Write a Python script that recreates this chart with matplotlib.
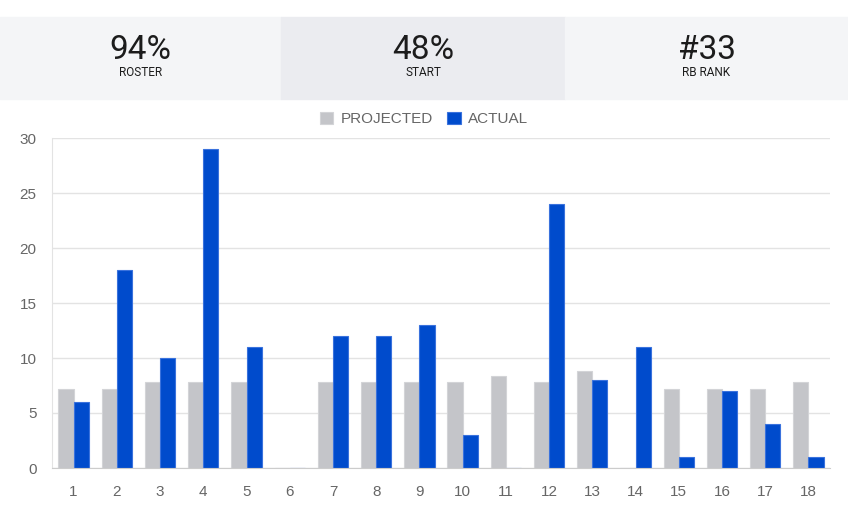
import matplotlib.pyplot as plt
import numpy as np
from matplotlib.patches import Rectangle

plt.rcParams['font.family'] = ['Roboto', 'DejaVu Sans']

# Données
semaines  = [str(i) for i in range(1, 19)]
projete   = [7.2, 7.2, 7.8, 7.8, 7.8, 0, 7.8, 7.8, 7.8, 7.8, 8.4, 7.8, 8.8, 0, 7.2, 7.2, 7.2, 7.8]
reel      = [6, 18, 10, 29, 11, 0, 12, 12, 13, 3, 0, 24, 8, 11, 1, 7, 4, 1]

stats_val = ["94%", "48%", "#33"]
stats_lab = ["ROSTER", "START", "RB RANK"]
stats_bg  = ["#f4f5f7", "#ebecf0", "#f4f5f7"]

gris  = "#c4c5c9"
bleu  = "#004bcc"
police_axes = ['Liberation Sans', 'DejaVu Sans']

fig = plt.figure(figsize=(8.48, 5.2), dpi=100)

# Bandeau de statistiques
W, H = 848, 520
bords = [0, 281, 565, 848]
for i in range(3):
    x0, x1 = bords[i] / W, bords[i + 1] / W
    fig.patches.append(Rectangle((x0, 1 - 99 / H), x1 - x0, 82 / H,
                                 transform=fig.transFigure, color=stats_bg[i], zorder=0))
    xc = (x0 + x1) / 2
    fig.text(xc, 1 - 50 / H, stats_val[i], ha="center", va="center",
             fontsize=24, color="#1c1c1c")
    fig.text(xc, 1 - 73 / H, stats_lab[i], ha="center", va="center",
             fontsize=8.5, color="#1c1c1c")

# Graphique
ax = fig.add_axes([52 / W, 1 - 468 / H, 778 / W, 330 / H])
x = np.arange(len(semaines))
w = 0.35
ax.bar(x - w / 2, projete, w, color=gris, edgecolor="#d3d4d7", linewidth=0.8,
       label="PROJECTED", zorder=2)
ax.bar(x + w / 2, reel, w, color=bleu, edgecolor="#3a72dd", linewidth=0.8,
       label="ACTUAL", zorder=2)

ax.set_xlim(-0.5, len(semaines) - 0.5)
ax.set_ylim(0, 30)
ax.set_yticks(range(0, 31, 5))
ax.set_xticks(x)
ax.set_xticklabels(semaines)
for lab in ax.get_xticklabels() + ax.get_yticklabels():
    lab.set_family(police_axes)
ax.grid(axis="y", color="#e3e3e3", linewidth=1, zorder=0)
ax.tick_params(axis="both", length=0, colors="#666666", labelsize=11)
ax.tick_params(axis="x", pad=12)
ax.tick_params(axis="y", pad=11)
for s in ["top", "right"]:
    ax.spines[s].set_visible(False)
ax.spines["left"].set_color("#e3e3e3")
ax.spines["bottom"].set_color("#cccccc")

handles, labels = ax.get_legend_handles_labels()
leg = fig.legend(handles, labels, loc="center", bbox_to_anchor=(0.5, 1 - 119 / H),
                 ncol=2, frameon=False, prop={"family": police_axes, "size": 11},
                 handlelength=0.9, handleheight=0.9, handletextpad=0.5,
                 columnspacing=0.9)
for t in leg.get_texts():
    t.set_color("#666666")

plt.savefig("out.png", dpi=100)
